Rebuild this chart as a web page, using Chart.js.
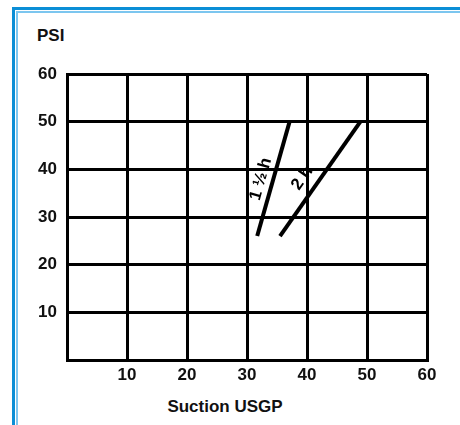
<!DOCTYPE html>
<html>
<head>
<meta charset="utf-8">
<script src="https://cdn.jsdelivr.net/npm/chart.js@4.4.1/dist/chart.umd.min.js"></script>
<style>
body { margin: 0; background: #fff; }
#wrap { position: relative; width: 460px; height: 425px; overflow: hidden; font-family: "Liberation Sans", Arial, sans-serif; }
.frame1 { position: absolute; left: 12px; top: 7px; width: 500px; height: 500px; border-left: 3px solid #0b8ed6; border-top: 3px solid #0b8ed6; }
.frame2 { position: absolute; left: 16px; top: 11px; width: 500px; height: 500px; border-left: 2px solid #7cc6ef; border-top: 2px solid #7cc6ef; }
#psi { position: absolute; left: 37px; top: 26px; font-weight: bold; font-size: 17px; color: #111; }
#xtitle { position: absolute; left: 167px; width: 116px; top: 397px; text-align: center; font-weight: bold; font-size: 17px; color: #111; white-space: nowrap; }
canvas { position: absolute; left: 0; top: 0; }
</style>
</head>
<body>
<div id="wrap">
  <div class="frame1"></div>
  <div class="frame2"></div>
  <div id="psi">PSI</div>
  <div id="xtitle">Suction USGP</div>
  <canvas id="chart_one" width="460" height="425"></canvas>
</div>
<script>
// curve end points
const line1X = [31.7, 37.1];
const line1Y = [26, 50];
const line2X = [35.5, 48.9];
const line2Y = [26, 50];
const lineLabels = ['1 ½ h', '2 h'];

const xTicks = [10, 20, 30, 40, 50, 60];
const yTicks = [10, 20, 30, 40, 50, 60];

function toPoints(xs, ys) {
    return xs.map((v, i) => ({ x: v, y: ys[i] }));
}

// writes the label along each line, a bit to its upper left
const lineLabelPlugin = {
    id: 'lineLabels',
    afterDatasetsDraw(chart) {
        const ctx = chart.ctx;
        const where = [0.47, 0.43];
        const offs = [12, 15];
        chart.data.datasets.forEach((ds, i) => {
            const pts = chart.getDatasetMeta(i).data;
            const p0 = pts[0], p1 = pts[1];
            const ang = Math.atan2(p1.y - p0.y, p1.x - p0.x);
            let cx = p0.x + (p1.x - p0.x) * where[i];
            let cy = p0.y + (p1.y - p0.y) * where[i];
            cx += Math.sin(ang) * offs[i];
            cy += -Math.cos(ang) * offs[i];
            ctx.save();
            ctx.translate(cx, cy);
            ctx.rotate(ang);
            ctx.font = 'bold 17px "Liberation Sans", Arial, sans-serif';
            ctx.fillStyle = '#000';
            ctx.textAlign = 'center';
            ctx.textBaseline = 'middle';
            ctx.fillText(lineLabels[i], 0, 0);
            ctx.restore();
        });
    }
};

const tickFont = { family: '"Liberation Sans", Arial, sans-serif', size: 17, weight: 'bold' };

new Chart(document.getElementById('chart_one'), {
    type: 'scatter',
    data: {
        datasets: [{
            data: toPoints(line1X, line1Y),
            showLine: true,
            borderColor: '#000',
            borderWidth: 4,
            pointRadius: 0
        }, {
            data: toPoints(line2X, line2Y),
            showLine: true,
            borderColor: '#000',
            borderWidth: 4,
            pointRadius: 0
        }]
    },
    options: {
        responsive: false,
        animation: false,
        layout: { padding: { left: 0, top: 74, right: 33, bottom: 0 } },
        plugins: {
            legend: { display: false },
            tooltip: { enabled: false }
        },
        scales: {
            x: {
                min: 0,
                max: 60,
                afterFit(scale) { scale.height = 65; },
                ticks: {
                    stepSize: 10,
                    padding: 5,
                    color: '#111',
                    font: tickFont,
                    maxRotation: 0,
                    callback: (v) => xTicks.includes(v) ? String(v) : ''
                },
                grid: { color: '#000', lineWidth: 3, drawTicks: false },
                border: { color: '#000', width: 3 }
            },
            y: {
                min: 0,
                max: 60,
                afterFit(scale) { scale.width = 67; },
                ticks: {
                    stepSize: 10,
                    padding: 10,
                    color: '#111',
                    font: tickFont,
                    callback: (v) => yTicks.includes(v) ? String(v) : ''
                },
                grid: { color: '#000', lineWidth: 3, drawTicks: false },
                border: { color: '#000', width: 3 }
            }
        }
    },
    plugins: [lineLabelPlugin]
});
</script>
</body>
</html>
